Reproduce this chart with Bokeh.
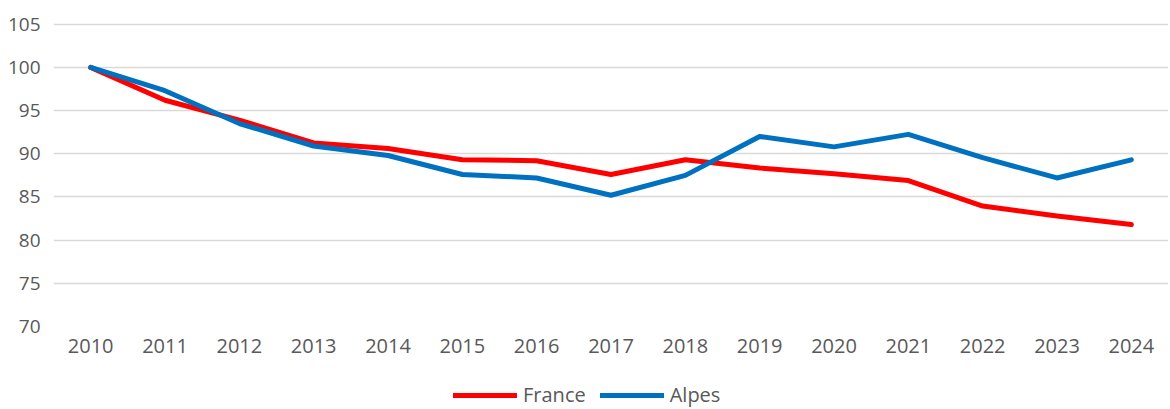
from bokeh.plotting import figure
from bokeh.models import ColumnDataSource, Legend, LegendItem, FactorRange, Range1d
from bokeh.layouts import column
from bokeh.embed import file_html
from bokeh.resources import INLINE

years = [str(y) for y in range(2010, 2025)]
france = [100, 96.2, 93.9, 91.25, 90.6, 89.3, 89.2, 87.6, 89.3, 88.35, 87.7, 86.9, 83.95, 82.8, 81.8]
alpes = [100, 97.3, 93.5, 90.9, 89.8, 87.6, 87.2, 85.2, 87.5, 92.0, 90.8, 92.25, 89.55, 87.2, 89.3]
y_ticks = [70, 75, 80, 85, 90, 95, 100, 105]
series_names = ["France", "Alpes"]
series_colors = ["#FF0000", "#0070C0"]

src = ColumnDataSource(dict(year=years, france=france, alpes=alpes))

FONT = "Open Sans"
GRAY = "#595959"
W = 1168

p = figure(width=W, height=370, x_range=FactorRange(*years, range_padding=0),
           y_range=Range1d(70, 105.2), output_backend="svg", toolbar_location=None,
           min_border_left=53, min_border_right=0, min_border_top=22, min_border_bottom=44)
p.outline_line_color = None
p.background_fill_color = "white"

p.yaxis.ticker = y_ticks
p.ygrid.grid_line_color = "#d9d9d9"
p.ygrid.grid_line_width = 1.5
p.xgrid.grid_line_color = None

for ax in (p.xaxis[0], p.yaxis[0]):
    ax.axis_line_color = None
    ax.major_tick_line_color = None
    ax.minor_tick_line_color = None
    ax.major_label_text_font = FONT
    ax.major_label_text_color = GRAY
p.yaxis.major_label_text_font_size = "19px"
p.xaxis.major_label_text_font_size = "20px"
p.yaxis.major_label_standoff = 7
p.xaxis.major_label_standoff = 6

p.line("year", "france", source=src, line_color=series_colors[0], line_width=5,
       line_cap="round", line_join="round")
p.line("year", "alpes", source=src, line_color=series_colors[1], line_width=5,
       line_cap="round", line_join="round")

# legend strip below the chart (frame aligned with the chart's frame)
p2 = figure(width=W, height=38, x_range=Range1d(0, 1), y_range=Range1d(0, 1),
            output_backend="svg", toolbar_location=None,
            min_border_left=53, min_border_right=0, min_border_top=0, min_border_bottom=0)
p2.axis.visible = False
p2.grid.visible = False
p2.outline_line_color = None
items = []
for name, col in zip(series_names, series_colors):
    # off-range placeholder lines: only their legend swatches are visible
    r = p2.line(x=[-5, -4], y=[-5, -5], line_color=col, line_width=5, line_cap="round")
    items.append(LegendItem(label=name, renderers=[r]))

legend = Legend(items=items, orientation="horizontal", location=(400, 0),
                label_text_font=FONT, label_text_font_size="20px", label_text_color=GRAY,
                glyph_width=64, glyph_height=20, label_standoff=6, spacing=14,
                border_line_color=None, background_fill_alpha=0, padding=0, margin=0)
p2.add_layout(legend)

layout = column(p, p2, spacing=0)
open("out.html", "w").write(file_html(layout, INLINE))
